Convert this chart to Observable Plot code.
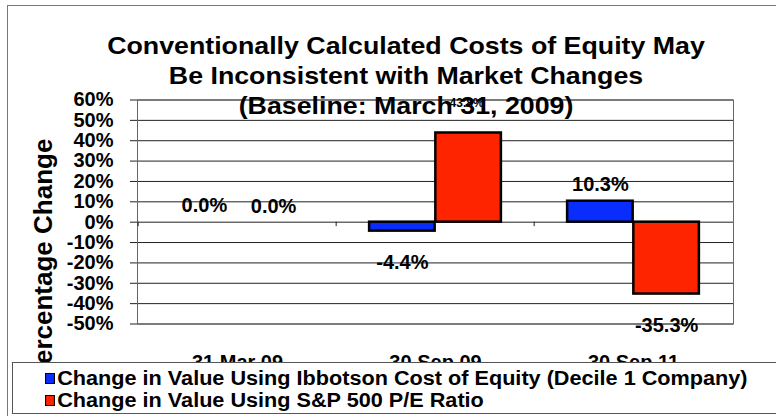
<!DOCTYPE html>
<html><head><meta charset="utf-8">
<script src="https://cdn.jsdelivr.net/npm/d3@7"></script>
<script src="https://cdn.jsdelivr.net/npm/@observablehq/plot@0.6"></script>
<style>
body{margin:0;background:#fff;font-family:"Liberation Sans",Arial,sans-serif;}
#wrap{position:relative;width:776px;height:416px;overflow:hidden;background:#fff;}
#frame{position:absolute;left:7px;top:5px;width:800px;height:420px;border-left:1px solid #777;border-top:1px solid #777;}
#chart{position:absolute;left:0;top:0;}
#chart svg{overflow:hidden;}
#title{position:absolute;left:18px;top:31px;width:776px;text-align:center;font-weight:bold;font-size:24px;line-height:30px;color:#000;pointer-events:none;}
#title div{transform:scaleX(1.115);}
#ylabel{position:absolute;left:43px;top:260px;width:0;height:0;}
#ylabel span{position:absolute;left:0;top:0;transform:translate(-50%,-50%) rotate(-90deg);white-space:nowrap;font-weight:bold;font-size:26px;line-height:26px;color:#000;}
#legend{position:absolute;left:12px;top:362px;width:800px;height:50px;border:1px solid #555;background:#fff;font-weight:bold;font-size:19.5px;}
.item{position:absolute;left:32px;white-space:nowrap;line-height:22px;transform:scaleX(1.11);transform-origin:0 50%;}
.sw{display:inline-block;width:7px;height:9px;border:1px solid #000;margin-right:2px;vertical-align:1px;}
</style>
</head><body>
<div id="wrap">
  <div id="frame"></div>
  <div id="chart"></div>
  <div id="title"></div>
  <div id="ylabel"><span></span></div>
  <div id="legend"></div>
</div>
<script>
const titleLines = ["Conventionally Calculated Costs of Equity May","Be Inconsistent with Market Changes","(Baseline: March 31, 2009)"];
const categories = ["31 Mar 09","30 Sep 09","30 Sep 11"];
const seriesNames = ["Change in Value Using Ibbotson Cost of Equity (Decile 1 Company)","Change in Value Using S&P 500 P/E Ratio"];
const ibbotson = [0.0, -4.4, 10.3];
const spPE = [0.0, 43.8, -35.3];
const yTicks = [-50,-40,-30,-20,-10,0,10,20,30,40,50,60];
const yLabel = "Percentage Change";
const colors = ["#0a2dff","#ff2400"];

const blue = categories.map((c,i)=>({cat:c, v:ibbotson[i]}));
const red = categories.map((c,i)=>({cat:c, v:spPE[i]}));
const fmt = v => v.toFixed(1) + "%";
const bw = (776-137-43)/3;
const off = bw/6;
const font = {fontSize:20, fontWeight:"bold", fill:"#000"};

const chart = Plot.plot({
  width:776, height:362,
  marginLeft:137, marginRight:43, marginTop:99.5, marginBottom:38.5,
  style:{background:"transparent", fontFamily:"Liberation Sans, Arial, sans-serif", color:"#000", overflow:"hidden"},
  x:{domain:categories, padding:0, axis:null},
  y:{domain:[-50,60], axis:null},
  marks:[
    Plot.ruleY(yTicks, {stroke:"#222", strokeWidth:1}),
    Plot.frame({stroke:"#666", strokeWidth:1}),
    Plot.axisY({ticks:yTicks, tickSize:7, tickPadding:17, tickFormat:d=>d+"%", fontSize:20, fontWeight:"bold", label:null, stroke:"#222"}),
    Plot.axisX({tickSize:0, tickPadding:31, fontSize:20, fontWeight:"bold", label:null}),
    Plot.ruleX(categories, {x:d=>d, dx:-bw/2, y1:0, y2:-2.2, stroke:"#222"}),
    Plot.barY(blue, {x:"cat", y:"v", fill:colors[0], stroke:"#000", strokeWidth:2.5, insetLeft:bw/6, insetRight:bw/2}),
    Plot.barY(red, {x:"cat", y:"v", fill:colors[1], stroke:"#000", strokeWidth:2.5, insetLeft:bw/2, insetRight:bw/6}),
    Plot.text(blue.filter(d=>d.v>=0), {x:"cat", y:"v", text:d=>fmt(d.v), dx:-off, dy:-17, ...font}),
    Plot.text(blue.filter(d=>d.v<0), {x:"cat", y:"v", text:d=>fmt(d.v), dx:-off, dy:31, ...font}),
    Plot.text(red.filter(d=>d.v==0), {x:"cat", y:"v", text:d=>fmt(d.v), dx:off+3, dy:-16, ...font}),
    Plot.text(red.filter(d=>d.v<0), {x:"cat", y:"v", text:d=>fmt(d.v), dx:off, dy:32, ...font}),
    Plot.text(red.filter(d=>d.v>0), {x:"cat", y:"v", text:d=>fmt(d.v), dx:off-2, dy:-30, fontSize:12, fontWeight:"bold", fill:"#000"})
  ]
});
document.getElementById("chart").appendChild(chart);
document.getElementById("title").innerHTML = titleLines.map(t=>`<div>${t}</div>`).join("");
document.querySelector("#ylabel span").textContent = yLabel;
document.getElementById("legend").innerHTML = seriesNames.map((s,i)=>
  `<div class="item" style="top:${4+i*22}px"><span class="sw" style="background:${colors[i]}"></span>${s.replace(/&/g,"&amp;")}</div>`).join("");
</script>
</body></html>
